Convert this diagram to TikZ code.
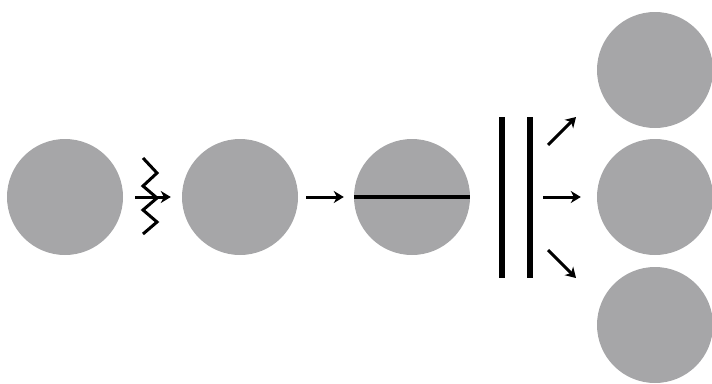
\documentclass[tikz,border=0pt]{standalone}
\usepackage{xcolor}
\usetikzlibrary{arrows.meta}
\definecolor{discgray}{RGB}{166,166,168}
\tikzset{
  disc/.style={circle,fill=discgray,minimum size=116pt,inner sep=0pt},
  arr/.style={line width=3pt,-{Stealth[length=10pt,width=12pt,inset=3pt]}},
  wall/.style={line width=6.5pt}
}
\begin{document}
\begin{tikzpicture}[x=1pt,y=-1pt,line join=miter]
\useasboundingbox (0,0) rectangle (712,383);
\node[disc] (c1) at (65,197) {};
\node[disc] (c2) at (240,197) {};
\node[disc] (c3) at (412,197) {};
\foreach \n/\y in {top/70,mid/197,bot/325} \node[disc] (o\n) at (655,\y) {};
% excitation
\draw[line width=3pt] (143,158) -- (157,173) -- (143,186) -- (157,198) -- (143,210) -- (157,222) -- (143,234);
\draw[arr] ([xshift=12pt]c1.east) -- ([xshift=-11pt]c2.west);
\draw[arr] ([xshift=8pt]c2.east) -- ([xshift=-10pt]c3.west);
\draw[line width=3.2pt] (c3.west) -- (c3.east);
% double wall
\coordinate (w1) at (502,117);
\coordinate (w2) at (530,117);
\draw[wall] (w1) -- ++(0,161);
\draw[wall] (w2) -- ++(0,161);
\coordinate (s1) at (548,145);
\coordinate (s2) at (543,197);
\coordinate (s3) at (548,250);
\draw[arr] (s1) -- ++(28,-28);
\draw[arr] (s2) -- ([xshift=-16pt]omid.west);
\draw[arr] (s3) -- ++(28,28);
\end{tikzpicture}
\end{document}
